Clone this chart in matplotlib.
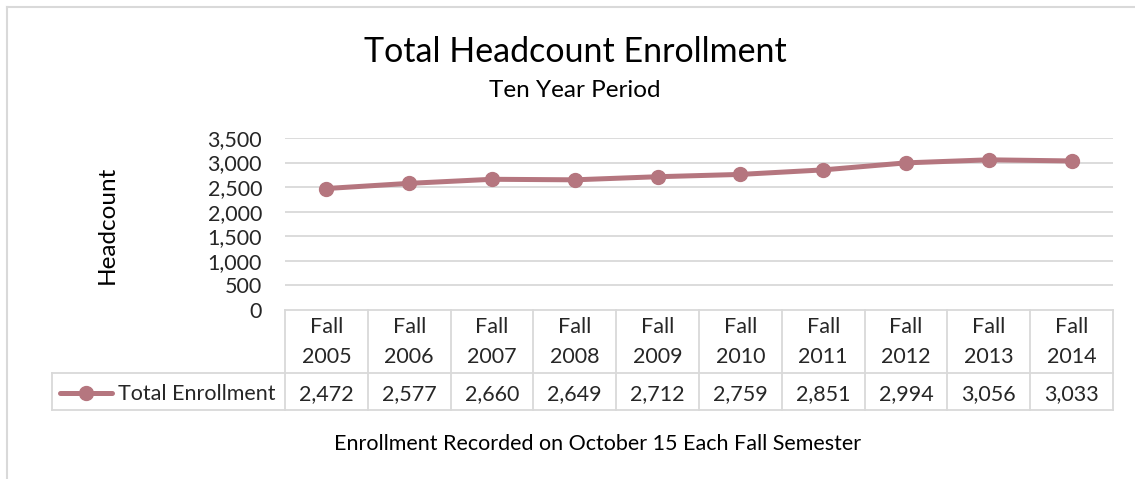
import matplotlib.pyplot as plt

plt.rcParams['font.family'] = ['Lato', 'DejaVu Sans']

years = ['2005', '2006', '2007', '2008', '2009', '2010', '2011', '2012', '2013', '2014']
enrollment = [2472, 2577, 2660, 2649, 2712, 2759, 2851, 2994, 3056, 3033]
yticks = [0, 500, 1000, 1500, 2000, 2500, 3000, 3500]

W, H = 1135, 479
line_color = '#B5767F'
text_color = '#262626'
grid_color = '#D9D9D9'

fig = plt.figure(figsize=(W / 100, H / 100), dpi=100)

# plot area in pixels
px0, px1 = 285, 1113
py_top, py_bot = 138, 310
ax = fig.add_axes([px0 / W, 1 - py_bot / H, (px1 - px0) / W, (py_bot - py_top) / H])
x = list(range(len(years)))
ax.plot(x, enrollment, color=line_color, lw=3.6, marker='o', ms=10, solid_capstyle='round', zorder=3)
ax.set_xlim(-0.5, len(years) - 0.5)
ax.set_ylim(0, 3500)
ax.set_yticks(yticks)
ax.set_yticklabels([f'{v:,}' for v in yticks], fontsize=15.5, color=text_color)
ax.set_xticks([])
ax.tick_params(axis='y', length=0, pad=16.5)
for v in yticks[1:]:
    ax.axhline(v, color=grid_color, lw=1.3, zorder=1)
for s in ax.spines.values():
    s.set_visible(False)

# overlay axes in pixel coords for table, titles and border
ov = fig.add_axes([0, 0, 1, 1], facecolor='none')
ov.set_xlim(0, W)
ov.set_ylim(H, 0)
ov.axis('off')

cw = (px1 - px0) / len(years)
row1_top, row1_bot, row2_bot = 310, 373, 410
leg_left = 52
kw = dict(color=grid_color, lw=1.3)
# verticals
for i in range(len(years) + 1):
    xx = px0 + i * cw
    ov.plot([xx, xx], [row1_top, row2_bot], **kw)
ov.plot([leg_left, leg_left], [row1_bot, row2_bot], **kw)
# horizontals
ov.plot([px0, px1], [row1_top, row1_top], **kw)
ov.plot([leg_left, px1], [row1_bot, row1_bot], **kw)
ov.plot([leg_left, px1], [row2_bot, row2_bot], **kw)

fs = 15.5
for i, (yr, v) in enumerate(zip(years, enrollment)):
    cx = px0 + (i + 0.5) * cw
    ov.text(cx, 327, 'Fall', ha='center', va='center', fontsize=fs, color=text_color)
    ov.text(cx, 357, yr, ha='center', va='center', fontsize=fs, color=text_color)
    ov.text(cx, 394, f'{v:,}', ha='center', va='center', fontsize=fs, color=text_color)

# legend key
ov.plot([60, 112], [393, 393], color=line_color, lw=3.6, solid_capstyle='round')
ov.plot([86], [393], 'o', color=line_color, ms=10)
ov.text(118, 394, 'Total Enrollment', ha='left', va='center', fontsize=fs, color=text_color)

# titles
ov.text(575, 52, 'Total Headcount Enrollment', ha='center', va='center', fontsize=24.5, color='black')
ov.text(575, 90, 'Ten Year Period', ha='center', va='center', fontsize=17.5, color='black')
ov.text(598, 444, 'Enrollment Recorded on October 15 Each Fall Semester', ha='center', va='center',
        fontsize=15.5, color='black')
ov.text(107, 225, 'Headcount', ha='center', va='center', rotation=90, fontsize=17.5, color='black')

# chart border (left and top visible)
ov.plot([7, 7], [7, H], color=grid_color, lw=1.5)
ov.plot([7, W], [7, 7], color=grid_color, lw=1.5)

fig.savefig('out.png', dpi=100)
